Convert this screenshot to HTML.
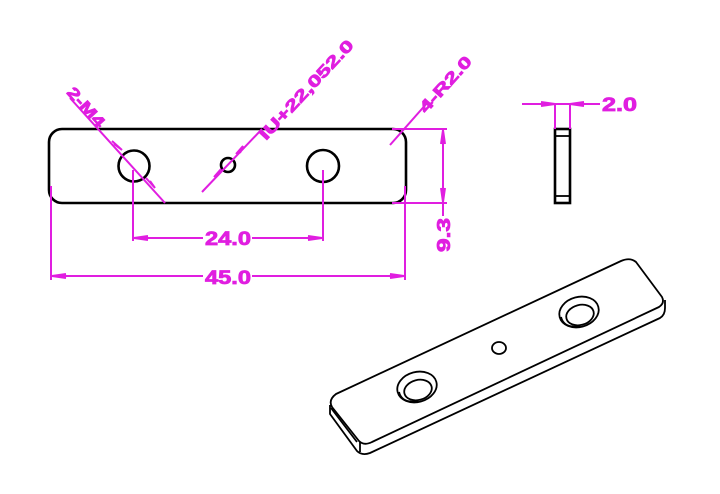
<!DOCTYPE html>
<html><head><meta charset="utf-8"><style>
html,body{margin:0;padding:0;background:#fff;}
svg{display:block;}
text{font-family:"Liberation Sans",sans-serif;font-weight:bold;fill:#e01ee0;stroke:#e01ee0;stroke-width:0.8;}
</style></head><body>
<svg width="720" height="494" viewBox="0 0 720 494" xmlns="http://www.w3.org/2000/svg">
<g fill="none" stroke="#000" stroke-width="2.6">
<rect x="49" y="129" width="357" height="74" rx="13"/>
<circle cx="134" cy="166" r="15.5"/>
<circle cx="228" cy="165" r="7"/>
<circle cx="323" cy="166" r="16"/>
<rect x="555" y="129" width="15" height="74"/>
<line x1="555" y1="136" x2="570" y2="136" stroke-width="1.8"/>
<line x1="555" y1="196" x2="570" y2="196" stroke-width="1.8"/>
</g>
<g fill="none" stroke="#e01ee0" stroke-width="2">
<line x1="133" y1="170" x2="133" y2="241"/>
<line x1="323" y1="170" x2="323" y2="241"/>
<line x1="133" y1="238" x2="203" y2="238"/>
<line x1="252" y1="238" x2="323" y2="238"/>
<polyline points="148,236 134,238 148,240"/>
<polyline points="308,236 322,238 308,240"/>
<line x1="51" y1="186" x2="51" y2="280"/>
<line x1="405" y1="186" x2="405" y2="280"/>
<line x1="51" y1="276" x2="203" y2="276"/>
<line x1="252" y1="276" x2="405" y2="276"/>
<polyline points="66,274 52,276 66,278"/>
<polyline points="390,274 404,276 390,278"/>
<line x1="392" y1="129" x2="447" y2="129"/>
<line x1="392" y1="203" x2="447" y2="203"/>
<line x1="443" y1="129" x2="443" y2="216"/>
<polyline points="441,144 443,130 445,144"/>
<polyline points="441,188 443,202 445,188"/>
<line x1="555" y1="103" x2="555" y2="129"/>
<line x1="570" y1="103" x2="570" y2="129"/>
<line x1="522" y1="104" x2="600" y2="104"/>
<polyline points="541,102 555,104 541,106"/>
<polyline points="584,102 570,104 584,106"/>
<line x1="70" y1="98" x2="165" y2="203"/>
<polyline points="112,141 122,150 114,144" />
<polyline points="146,178 155,188 150,181"/>
<line x1="202" y1="192" x2="262" y2="129"/>
<polyline points="214,177 221,169 217,176"/>
<polyline points="236,154 243,146 240,153"/>
<line x1="390" y1="145" x2="428" y2="102"/>
</g>
<text x="0" y="0" font-size="16" transform="translate(66,93) rotate(48)" textLength="48" lengthAdjust="spacingAndGlyphs">2-M4</text>
<text x="0" y="0" font-size="16" transform="translate(266,141) rotate(-47)" textLength="130" lengthAdjust="spacingAndGlyphs">IU+22,052.0</text>
<text x="0" y="0" font-size="16" transform="translate(426,114) rotate(-48)" textLength="70" lengthAdjust="spacingAndGlyphs">4-R2.0</text>
<text x="205" y="245" font-size="19" textLength="46" lengthAdjust="spacingAndGlyphs">24.0</text>
<text x="205" y="284" font-size="19" textLength="46" lengthAdjust="spacingAndGlyphs">45.0</text>
<text x="0" y="0" font-size="18" transform="translate(450,252) rotate(-90)" textLength="34" lengthAdjust="spacingAndGlyphs">9.3</text>
<text x="602" y="111" font-size="19" textLength="35" lengthAdjust="spacingAndGlyphs">2.0</text>
<g fill="none" stroke="#000" stroke-width="1.8" stroke-linejoin="round">
<path d="M336,394 L621,261 Q630,257 636,262 L662,297 Q665,303 659,307 L372,442 Q364,446 359,441 L332,407 Q328,400 336,394 Z"/>
<path d="M330,405 L330,414 L357,451 Q362,456 370,453 L660,318 Q665,315 665,308 L665,300"/>
<line x1="360" y1="442" x2="360" y2="452"/>
<line x1="331" y1="408" x2="357" y2="442"/>
<ellipse cx="417" cy="387" rx="20" ry="15" transform="rotate(-15 417 387)"/>
<ellipse cx="418" cy="390" rx="14" ry="10" transform="rotate(-15 418 390)"/>
<path d="M399,392 Q402,404 418,401"/>
<ellipse cx="579" cy="312" rx="20" ry="15" transform="rotate(-15 579 312)"/>
<ellipse cx="580" cy="315" rx="14" ry="10" transform="rotate(-15 580 315)"/>
<path d="M561,317 Q564,329 580,326"/>
<ellipse cx="499" cy="348" rx="7" ry="6"/>
</g>
</svg>
</body></html>
